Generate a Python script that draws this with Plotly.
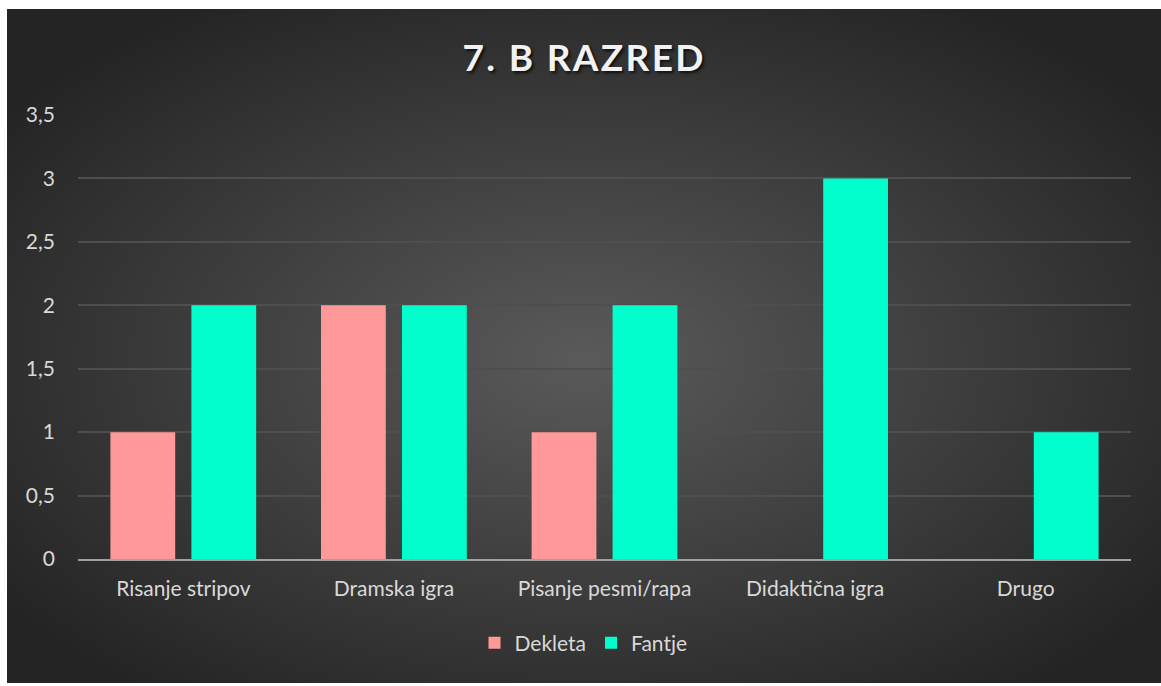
import base64
import plotly.graph_objects as go

categories = ["Risanje stripov", "Dramska igra", "Pisanje pesmi/rapa", "Didaktična igra", "Drugo"]
dekleta = [1, 2, 1, 0, 0]
fantje = [2, 2, 2, 3, 1]
y_ticks = [0, 0.5, 1, 1.5, 2, 2.5, 3, 3.5]
title_text = "7. B RAZRED"

W, H = 1161, 686
L, R, T, B = 78, 30, 115, 127
pw, ph = W - L - R, H - T - B

svg = (
    '<svg xmlns="http://www.w3.org/2000/svg" width="1154" height="674" viewBox="0 0 1154 674" preserveAspectRatio="none">'
    '<defs><radialGradient id="g" cx="50%" cy="52%" r="62%">'
    '<stop offset="0%" stop-color="#5A5A5A"/>'
    '<stop offset="100%" stop-color="#242424"/>'
    '</radialGradient></defs>'
    '<rect width="1154" height="674" fill="url(#g)"/></svg>'
)
src = "data:image/svg+xml;base64," + base64.b64encode(svg.encode()).decode()

font_family = "Lato, 'Open Sans', sans-serif"
spaced_title = "\u200a".join(title_text)

fig = go.Figure()
fig.add_trace(go.Bar(name="Dekleta", x=categories, y=dekleta, marker_color="#FF9999", marker_line_width=0))
fig.add_trace(go.Bar(name="Fantje", x=categories, y=fantje, marker_color="#00FFCC", marker_line_width=0))

fig.update_layout(
    width=W, height=H,
    margin=dict(l=L, r=R, t=T, b=B, pad=0),
    paper_bgcolor="white",
    plot_bgcolor="rgba(0,0,0,0)",
    separators=",.",
    barmode="group",
    bargap=0.231,
    bargroupgap=0.2,
    font=dict(family=font_family, color="#D9D9D9", size=21),
    title=dict(
        text=spaced_title,
        x=(583 / W), xanchor="center",
        y=1 - 58 / H, yanchor="middle",
        font=dict(family=font_family, size=37, color="#F2F2F2", weight="bold",
                  shadow="2px 2px 3px rgba(0,0,0,0.7)"),
    ),
    legend=dict(
        orientation="h", x=(583.5 - L) / pw, xanchor="center",
        y=(559 - 643) / ph, yanchor="middle",
        font=dict(size=21, color="#D9D9D9"),
        bgcolor="rgba(0,0,0,0)",
        itemwidth=30,
        traceorder="normal",
    ),
    images=[dict(
        source=src, xref="paper", yref="paper",
        x=(7 - L) / pw, y=(559 - 9) / ph,
        sizex=1154 / pw, sizey=674 / ph,
        xanchor="left", yanchor="top",
        sizing="stretch", layer="below",
    )],
    xaxis=dict(
        showgrid=False, showline=True, linecolor="#A0A0A0", linewidth=2,
        ticks="", tickfont=dict(size=21, color="#D9D9D9"),
        zeroline=False, ticklabelstandoff=10,
    ),
    yaxis=dict(
        range=[0, 3.5], tickvals=y_ticks,
        showgrid=True, gridcolor="#4E4E4E", gridwidth=1.5,
        zeroline=False, showline=False,
        tickfont=dict(size=21, color="#D9D9D9"),
        ticklabelstandoff=22,
    ),
)

fig.write_html("out.html", config={"displayModeBar": False},
               post_script="document.body.style.margin='0';")
